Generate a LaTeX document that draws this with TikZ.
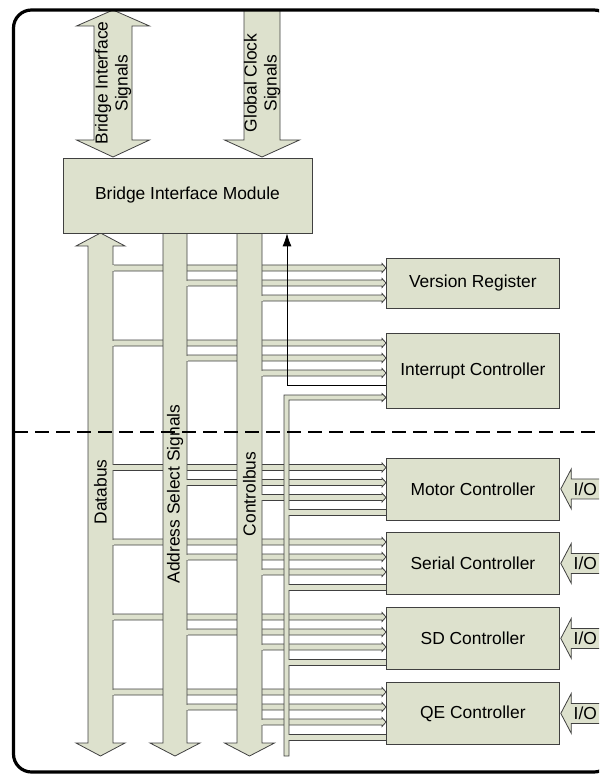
\documentclass[tikz,border=0pt]{standalone}
\usepackage{fontspec}
\setmainfont{Liberation Sans}
\usetikzlibrary{arrows.meta, positioning}

\definecolor{busfill}{RGB}{221,225,205}
\definecolor{edgegray}{RGB}{64,64,64}

\newcommand{\labfont}{\fontsize{17.4pt}{20pt}\selectfont}

% bus tap with a small arrow into the device: #1 bus edge x, #2 top y, #3 device x
\newcommand{\buslink}[3]{%
  \filldraw[tapline] (#1,#2) -- (#3-4,#2) -- (#3-4,#2-1.5) -- (#3,#2+3)
    -- (#3-4,#2+7.5) -- (#3-4,#2+6) -- (#1,#2+6);
}
% interrupt request tap, flat end at the device
\newcommand{\irqlink}[3]{%
  \fill[busfill] (#1,#2) rectangle (#3,#2+6);
  \draw[tapline] (#1,#2) -- (#3,#2) (#1,#2+6) -- (#3,#2+6);
}
% opens the bus edge where a tap leaves it
\newcommand{\tapjoin}[2]{%
  \fill[busfill] (#1-1.3,#2+0.5) rectangle (#1+1.3,#2+5.5);
}

\begin{document}
\begin{tikzpicture}[x=1pt, y=-1pt,
    blk/.style={draw=edgegray, fill=busfill, line width=0.8pt, font=\labfont, inner sep=0pt},
    devbox/.style={blk, minimum width=173pt, anchor=north west},
    busshape/.style={draw=edgegray, fill=busfill, line width=0.8pt, line join=miter},
    tapline/.style={draw=edgegray, fill=busfill, line width=0.8pt},
    sigline/.style={draw=black, line width=0.8pt},
    lbl/.style={font=\labfont, inner sep=0pt, align=center}]

    \clip (0,0) rectangle (599,775);

    % =================================================================
    % 1. TAPS INTO THE DEVICES (behind the buses)
    % =================================================================
    \foreach \yy in {258,333,457.5,532,607,682}
        \foreach \bx [count=\i from 0] in {113,187,262}
            \buslink{\bx}{\yy+7+15*\i}{386};
    \foreach \yy in {457.5,532,607,682}
        \irqlink{289}{\yy+52}{386};

    % =================================================================
    % 2. BUSES BELOW THE BRIDGE
    % =================================================================
    % Databus (both ways)
    \filldraw[busshape] (100.5,233) -- (125,246) -- (113,246) -- (113,743) -- (125,743)
        -- (100.5,756) -- (76,743) -- (88,743) -- (88,246) -- (76,246) -- cycle;
    % Address select signals
    \filldraw[busshape] (187,233) -- (187,743) -- (200,743) -- (175,756) -- (150,743)
        -- (163,743) -- (163,233);
    % Controlbus
    \filldraw[busshape] (262,233) -- (262,743) -- (274.5,743) -- (249.5,756) -- (224.5,743)
        -- (237,743) -- (237,233);
    % Interrupt request bus
    \filldraw[busshape] (289,756) -- (289,400) -- (382,400) -- (382,401.5) -- (386,397.5)
        -- (382,393.5) -- (382,395) -- (284,395) -- (284,756) -- cycle;

    % open the bus edges at the taps
    \foreach \yy in {258,333,457.5,532,607,682}
        \foreach \bx [count=\i from 0] in {113,187,262}
            \tapjoin{\bx}{\yy+7+15*\i};
    \foreach \yy in {457.5,532,607,682}
        \tapjoin{289}{\yy+52};

    % =================================================================
    % 3. BLOCKS
    % =================================================================
    \node[blk, minimum width=249pt, minimum height=75pt] (bim) at (187.5,195.5) {Bridge Interface Module};

    \node[devbox, minimum height=50pt] (vreg) at (386,258) {Version Register};
    \node[devbox, minimum height=75pt] (intc) at (386,333) {Interrupt Controller};
    \node[devbox, minimum height=62pt] (motc) at (386,457.5) {Motor Controller};
    \node[devbox, minimum height=62pt] (serc) at (386,532) {Serial Controller};
    \node[devbox, minimum height=62pt] (sdc) at (386,607) {SD Controller};
    \node[devbox, minimum height=62pt] (qec) at (386,682) {QE Controller};

    % interrupt line up to the bridge
    \coordinate (irqturn) at (287,385);
    \draw[sigline, -{Latex[length=13pt,width=9pt]}] (intc.west |- irqturn) -- (irqturn) -- (irqturn |- bim.south);

    % =================================================================
    % 4. SIGNALS ABOVE THE BRIDGE
    % =================================================================
    \filldraw[busshape] (113,10) -- (149.5,26) -- (132,26) -- (132,140) -- (149.5,140)
        -- (113,157) -- (76.5,140) -- (94,140) -- (94,26) -- (76.5,26) -- cycle;
    \filldraw[busshape] (244,10) -- (280,10) -- (280,140) -- (299.5,140) -- (262,157)
        -- (224.5,140) -- (244,140) -- cycle;

    \node[lbl, rotate=90] (bistxt) at (113,83) {Bridge Interface\\Signals};
    \node[lbl, rotate=90] (gcstxt) at (262,83) {Global Clock\\Signals};

    \node[lbl, rotate=90] (dbtxt) at (100.5,492) {Databus};
    \node[lbl, rotate=90] (astxt) at (175,494) {Address Select Signals};
    \node[lbl, rotate=90] (cbtxt) at (249.5,494) {Controlbus};

    % =================================================================
    % 5. I/O INTO THE LOWER DEVICES
    % =================================================================
    \foreach \nm in {motc,serc,sdc,qec} {
        \filldraw[busshape] ([xshift=1pt]\nm.east) -- ++(10.5,-20) -- ++(0,10) -- ++(40,0)
            -- ++(0,20) -- ++(-40,0) -- ++(0,10) -- cycle;
        \node[lbl] (io\nm) at ([xshift=25.5pt]\nm.east) {I/O};
    }

    % =================================================================
    % 6. DIVIDER AND FRAME
    % =================================================================
    \draw[line width=1.8pt, dash pattern=on 14pt off 7pt] (14,432) -- (599,432);
    \draw[line width=3.2pt, rounded corners=18pt] (13.5,10) rectangle (612,772);

\end{tikzpicture}
\end{document}
